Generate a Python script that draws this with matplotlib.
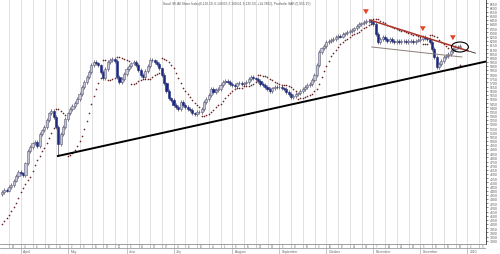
#!/usr/bin/env python
# -*- coding: utf-8 -*-

# Tageskerzen des saudischen Aktienindex mit Parabolic SAR und Trendlinien

import matplotlib
matplotlib.use('Agg')
import matplotlib.pyplot as plt
from matplotlib.patches import Ellipse

##########################
## Daten (Tageskerzen)  ##
##########################

opens = [4360, 4385, 4410, 4400, 4445, 4470, 4520, 4575, 4625, 4610,
         4585, 4730, 4875, 4925, 4970, 4990, 4935, 5080, 5125, 5165,
         5250, 5330, 5355, 5285, 5165, 4960, 5080, 5165, 5260, 5330,
         5380, 5415, 5455, 5500, 5560, 5645, 5705, 5765, 5825, 5910,
         5945, 5930, 5905, 5825, 5750, 5860, 5945, 5970, 5980, 5955,
         5765, 5705, 5740, 5800, 5860, 5895, 5930, 5945, 5910, 5850,
         5790, 5765, 5835, 5895, 5970, 5965, 5945, 5920, 5870, 5790,
         5690, 5595, 5510, 5490, 5430, 5405, 5380, 5465, 5430, 5405,
         5380, 5370, 5330, 5320, 5345, 5345, 5380, 5465, 5500, 5550,
         5620, 5585, 5610, 5620, 5670, 5705, 5715, 5705, 5680, 5670,
         5655, 5690, 5695, 5680, 5690, 5705, 5740, 5765, 5750, 5740,
         5715, 5680, 5670, 5645, 5620, 5595, 5630, 5645, 5640, 5650,
         5630, 5620, 5585, 5560, 5525, 5535, 5560, 5570, 5595, 5620,
         5645, 5670, 5680, 5730, 5790, 5910, 6065, 6110, 6135, 6185,
         6195, 6210, 6220, 6245, 6255, 6250, 6280, 6290, 6305, 6315,
         6330, 6350, 6375, 6400, 6410, 6425, 6435, 6440, 6425, 6400,
         6280, 6185, 6220, 6245, 6220, 6195, 6220, 6195, 6185, 6200,
         6185, 6195, 6200, 6180, 6195, 6200, 6185, 6200, 6210, 6220,
         6245, 6230, 6220, 6185, 6100, 6005, 5885, 5920, 5955, 6005,
         6015, 6040, 6075, 6100, 6125, 6120]

highs = [4405, 4430, 4430, 4465, 4490, 4540, 4595, 4645, 4645, 4630,
         4750, 4895, 4945, 4990, 5010, 5010, 5100, 5145, 5185, 5270,
         5350, 5380, 5375, 5305, 5185, 5100, 5185, 5280, 5350, 5400,
         5435, 5475, 5520, 5580, 5665, 5725, 5785, 5845, 5930, 5970,
         5965, 5950, 5925, 5845, 5880, 5965, 5990, 6005, 6000, 5975,
         5785, 5760, 5820, 5880, 5915, 5950, 5965, 5970, 5930, 5870,
         5810, 5855, 5915, 5990, 5990, 5985, 5965, 5940, 5890, 5810,
         5710, 5615, 5530, 5510, 5450, 5425, 5485, 5485, 5450, 5425,
         5400, 5390, 5350, 5365, 5365, 5400, 5485, 5520, 5570, 5640,
         5640, 5630, 5640, 5690, 5725, 5735, 5735, 5725, 5700, 5690,
         5710, 5715, 5715, 5710, 5725, 5760, 5785, 5785, 5770, 5760,
         5735, 5700, 5690, 5665, 5640, 5650, 5665, 5665, 5670, 5670,
         5650, 5640, 5605, 5580, 5555, 5580, 5590, 5615, 5640, 5665,
         5690, 5700, 5750, 5810, 5930, 6085, 6130, 6155, 6205, 6215,
         6230, 6240, 6265, 6275, 6275, 6300, 6310, 6325, 6335, 6350,
         6370, 6395, 6420, 6430, 6445, 6460, 6465, 6460, 6445, 6420,
         6300, 6240, 6265, 6265, 6240, 6240, 6240, 6215, 6220, 6220,
         6215, 6220, 6220, 6215, 6220, 6220, 6220, 6230, 6240, 6270,
         6265, 6250, 6240, 6205, 6120, 6025, 5940, 5975, 6025, 6035,
         6060, 6095, 6120, 6145, 6145, 6155]

lows = [4340, 4365, 4380, 4380, 4425, 4450, 4500, 4555, 4590, 4565,
        4565, 4710, 4855, 4905, 4950, 4915, 4915, 5060, 5105, 5145,
        5230, 5310, 5265, 5145, 4815, 4940, 5060, 5145, 5240, 5310,
        5360, 5395, 5435, 5480, 5540, 5625, 5685, 5745, 5805, 5890,
        5910, 5885, 5805, 5725, 5730, 5840, 5925, 5950, 5935, 5745,
        5680, 5685, 5720, 5780, 5840, 5875, 5910, 5890, 5830, 5770,
        5745, 5745, 5815, 5875, 5945, 5925, 5900, 5850, 5770, 5670,
        5575, 5490, 5470, 5410, 5385, 5360, 5360, 5410, 5385, 5360,
        5350, 5310, 5300, 5300, 5325, 5325, 5360, 5445, 5480, 5530,
        5565, 5565, 5590, 5600, 5650, 5685, 5685, 5660, 5650, 5635,
        5635, 5670, 5660, 5660, 5670, 5685, 5720, 5730, 5720, 5695,
        5660, 5650, 5625, 5600, 5575, 5575, 5610, 5620, 5620, 5610,
        5600, 5565, 5540, 5505, 5505, 5515, 5540, 5550, 5575, 5600,
        5625, 5650, 5660, 5710, 5770, 5890, 6045, 6090, 6115, 6165,
        6175, 6190, 6200, 6225, 6230, 6230, 6260, 6270, 6285, 6295,
        6310, 6330, 6355, 6380, 6390, 6405, 6415, 6405, 6380, 6260,
        6165, 6165, 6200, 6200, 6175, 6175, 6175, 6165, 6165, 6165,
        6165, 6175, 6160, 6160, 6175, 6165, 6165, 6180, 6190, 6200,
        6210, 6200, 6165, 6080, 5985, 5855, 5865, 5900, 5935, 5985,
        5995, 6020, 6055, 6080, 6100, 6100]

closes = [4385, 4410, 4400, 4445, 4470, 4520, 4575, 4625, 4610, 4585,
          4730, 4875, 4925, 4970, 4990, 4935, 5080, 5125, 5165, 5250,
          5330, 5355, 5285, 5165, 4960, 5080, 5165, 5260, 5330, 5380,
          5415, 5455, 5500, 5560, 5645, 5705, 5765, 5825, 5910, 5945,
          5930, 5905, 5825, 5750, 5860, 5945, 5970, 5980, 5955, 5765,
          5705, 5740, 5800, 5860, 5895, 5930, 5945, 5910, 5850, 5790,
          5765, 5835, 5895, 5970, 5965, 5945, 5920, 5870, 5790, 5690,
          5595, 5510, 5490, 5430, 5405, 5380, 5465, 5430, 5405, 5380,
          5370, 5330, 5320, 5345, 5345, 5380, 5465, 5500, 5550, 5620,
          5585, 5610, 5620, 5670, 5705, 5715, 5705, 5680, 5670, 5655,
          5690, 5695, 5680, 5690, 5705, 5740, 5765, 5750, 5740, 5715,
          5680, 5670, 5645, 5620, 5595, 5630, 5645, 5640, 5650, 5630,
          5620, 5585, 5560, 5525, 5535, 5560, 5570, 5595, 5620, 5645,
          5670, 5680, 5730, 5790, 5910, 6065, 6110, 6135, 6185, 6195,
          6210, 6220, 6245, 6255, 6250, 6280, 6290, 6305, 6315, 6330,
          6350, 6375, 6400, 6410, 6425, 6435, 6440, 6425, 6400, 6280,
          6185, 6220, 6245, 6220, 6195, 6220, 6195, 6185, 6200, 6185,
          6195, 6200, 6180, 6195, 6200, 6185, 6200, 6210, 6220, 6245,
          6230, 6220, 6185, 6100, 6005, 5885, 5920, 5955, 6005, 6015,
          6040, 6075, 6100, 6125, 6120, 6135]

# Startwerte des Parabolic SAR (Trend lief schon vor dem ersten Tag)
sar_start = 4000
sar_ep = 4405
sar_af = 0.08

# Wochenbeschriftung und Monate (Index der Woche)
week_days = ['28', '4', '11', '18', '25', '2', '9', '16', '23', '30',
             '6', '13', '20', '27', '4', '11', '18', '25', '1', '8',
             '15', '22', '29', '5', '12', '19', '3', '10', '17', '24',
             '31', '7', '14', '21', '28', '5', '12', '19', '26', '2', '9']
month_names = ['April', 'May', 'June', 'July', 'August', 'September',
               'October', 'November', 'December', '2010']
month_weeks = [1, 5, 10, 14, 19, 23, 27, 31, 35, 39]

# Trendlinien (Tagesindex, Kurs)
support_line = ([23.8, 206.0], [4816, 5950])
resistance_line = ([156.6, 198.3], [6448, 6078])
triangle_line = ([157.4, 195.7], [6124, 6004])
arrow_days = [154.9, 179.1, 191.9]
arrow_tips = [6484, 6280, 6172]

title = ('Saudi SE All Share Index(6,120.10, 6,149.03, 6,100.04, 6,135.50, '
         '+14.7402), Parabolic SAR (5,955.15)')


def parabolic_sar(hi, lo, start, ep, af, step=0.02, af_max=0.2):
    sar = [start]
    up = True
    for i in range(1, len(hi)):
        s = sar[-1] + af * (ep - sar[-1])
        if up:
            s = min(s, lo[i - 1], lo[max(i - 2, 0)])
            if lo[i] < s:
                up, s, ep, af = False, ep, lo[i], step
            elif hi[i] > ep:
                ep, af = hi[i], min(af + step, af_max)
        else:
            s = max(s, hi[i - 1], hi[max(i - 2, 0)])
            if hi[i] > s:
                up, s, ep, af = True, ep, hi[i], step
            elif lo[i] < ep:
                ep, af = lo[i], min(af + step, af_max)
        sar.append(s)
    return sar


##########################
## Diagramm erstellen   ##
##########################

plt.rcParams['font.family'] = ['Liberation Sans', 'DejaVu Sans']

fig = plt.figure(figsize=(5, 2.55), dpi=100, facecolor='white')
ax = fig.add_axes([0, 10 / 255, 486 / 500, 245 / 255])
ax_dates = fig.add_axes([0, 0, 486 / 500, 10 / 255], sharex=ax)

x_min, x_max = -0.85, 206.0
ax.set_xlim(x_min, x_max)
ax.set_ylim(3760, 6700)

# Wochen-Gitterlinien
grid_x = [3.1 + 5 * k for k in range(len(week_days))]
for gx in grid_x:
    ax.axvline(gx, color='#d4d4d4', lw=0.5, zorder=0)

# Kerzen
days = list(range(len(closes)))
for d, o, h, l, c in zip(days, opens, highs, lows, closes):
    ax.vlines(d, l, h, color='#55556a', lw=0.55, zorder=2)
    if c >= o:
        ax.bar(d, max(c - o, 4), bottom=o, width=0.9, color='#c6c6d6',
               edgecolor='#5c5c78', lw=0.4, zorder=3)
    else:
        ax.bar(d, o - c, bottom=c, width=0.9, color='#1c2880',
               edgecolor='#1c2880', lw=0.4, zorder=3)

# Parabolic SAR
sar = parabolic_sar(highs, lows, sar_start, sar_ep, sar_af)
ax.plot(days, sar, ls='none', marker='o', ms=1.2, mew=0,
        color='#6e2424', zorder=4)

# Trendlinien
ax.plot(*support_line, color='black', lw=1.4, zorder=5)
ax.plot(*resistance_line, color='#a8362a', lw=1.1, zorder=5)
ax.plot([198.3, 201.5], [6078, 6050], color='#3a2a2a', lw=0.6, zorder=5)
ax.plot(*triangle_line, color='#8c7c78', lw=0.7, zorder=5)
ax.add_patch(Ellipse((194.9, 6124), width=7.2, height=120, fill=False,
                     edgecolor='black', lw=0.8, zorder=6))

# Pfeile
for ad, at in zip(arrow_days, arrow_tips):
    ax.annotate('', xy=(ad, at), xytext=(ad, at + 110),
                arrowprops=dict(arrowstyle='simple,head_length=0.6,head_width=0.7,tail_width=0.3',
                                color='#e4462a', lw=0, mutation_scale=6),
                zorder=7)

ax.text(163 / 486, 1 - 4 / 245, title, transform=ax.transAxes, fontsize=2.3,
        color='#555555', ha='left', va='center')

# Achsen formatieren
ax.yaxis.tick_right()
ax.set_yticks(range(3800, 6700, 50))
ax.set_yticklabels([str(v) for v in range(3800, 6700, 50)])
ax.tick_params(axis='y', length=1.5, width=0.4, labelsize=2.5,
               labelcolor='#606060', color='#333333', pad=1)
ax.tick_params(axis='x', bottom=False, labelbottom=False)
for side in ['left', 'top']:
    ax.spines[side].set_visible(False)
ax.spines['right'].set_color('#333333')
ax.spines['right'].set_linewidth(0.6)
ax.spines['bottom'].set_color('#777777')
ax.spines['bottom'].set_linewidth(0.5)

# Datumsleiste
ax_dates.set_ylim(0, 10)
ax_dates.axis('off')
ax_dates.axhline(6, color='#888888', lw=0.5)
for gx, lab in zip(grid_x, week_days):
    ax_dates.vlines(gx, 6, 10, color='#999999', lw=0.4)
    ax_dates.text(gx + 1.2, 8, lab, fontsize=1.9, color='#666666',
                  ha='left', va='center')
for k, name in zip(month_weeks, month_names):
    ax_dates.vlines(grid_x[k], 0, 6, color='#999999', lw=0.4)
    ax_dates.text(grid_x[k] + 1.0, 3, name, fontsize=2.4, color='#666666',
                  ha='left', va='center')

fig.savefig('out.png', dpi=100)
